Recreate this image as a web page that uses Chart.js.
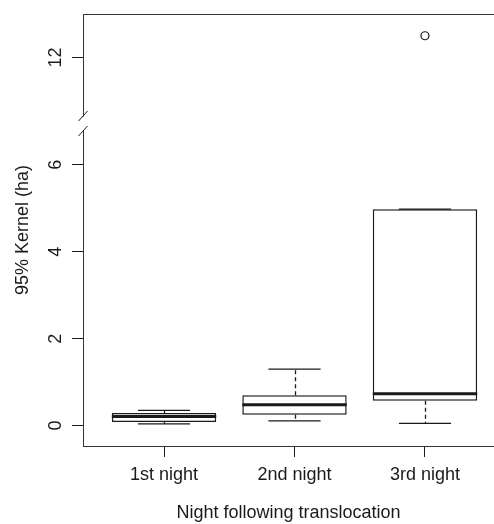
<!DOCTYPE html>
<html lang="en">
<head>
  <meta charset="UTF-8" />
  <title>95% Kernel by night following translocation</title>
  <script src="https://cdn.jsdelivr.net/npm/chart.js"></script>
  <style>
    body {
      margin: 0;
      background: #fff;
      overflow: hidden;
    }
    canvas {
      display: block;
    }
  </style>
</head>
<body>

  <canvas id="boxChart" width="494" height="524"></canvas>

  <script>
    // Box plot summaries (ha)
    const nights = ['1st night', '2nd night', '3rd night'];
    const lowerWhisker = [0.04, 0.11, 0.05];
    const q1 = [0.08, 0.25, 0.57];
    const median = [0.21, 0.48, 0.73];
    const q3 = [0.29, 0.70, 4.98];
    const upperWhisker = [0.35, 1.30, 4.98];
    const outlierNight = [3];
    const outlierValue = [12.5];

    // y axis: ticks and the cut-out part of the axis
    const yTicks = [0, 2, 4, 6, 12];
    const yGap = [6.95, 10.48];

    const ink = '#1a1a1a';
    const font = { family: "'Liberation Sans', Arial, sans-serif", size: 18 };

    // linear scale with a section of the axis removed (axis break)
    class BrokenScale extends Chart.LinearScale {
      squash(v) {
        const [a, b] = this.options.gap;
        if (v <= a) return v;
        if (v >= b) return v - (b - a);
        return a;
      }
      configure() {
        super.configure();
        this._valueRange = this.squash(this.max) - this._startValue;
      }
      getPixelForValue(v) {
        return super.getPixelForValue(this.squash(v));
      }
    }
    BrokenScale.id = 'broken';
    BrokenScale.defaults = Chart.LinearScale.defaults;
    Chart.register(BrokenScale);

    const noPad = s => {
      s.paddingTop = s.paddingBottom = s.paddingLeft = s.paddingRight = 0;
    };

    // whiskers, medians, top frame line and the axis break
    const boxExtras = {
      id: 'boxExtras',
      afterDatasetsDraw(chart) {
        const { ctx, scales: { x, y } } = chart;
        const seg = (x1, y1, x2, y2) => {
          ctx.beginPath();
          ctx.moveTo(x1, y1);
          ctx.lineTo(x2, y2);
          ctx.stroke();
        };
        ctx.save();
        ctx.strokeStyle = ink;
        nights.forEach((_, i) => {
          const cx = Math.round(x.getPixelForValue(i + 1)) + 0.5;
          ctx.lineWidth = 1.3;
          ctx.setLineDash([4, 3]);
          seg(cx, y.getPixelForValue(q3[i]), cx, y.getPixelForValue(upperWhisker[i]));
          seg(cx, y.getPixelForValue(q1[i]), cx, y.getPixelForValue(lowerWhisker[i]));
          ctx.setLineDash([]);
          const sl = x.getPixelForValue(i + 0.8), sr = x.getPixelForValue(i + 1.2);
          seg(sl, y.getPixelForValue(upperWhisker[i]), sr, y.getPixelForValue(upperWhisker[i]));
          seg(sl, y.getPixelForValue(lowerWhisker[i]), sr, y.getPixelForValue(lowerWhisker[i]));
          ctx.lineWidth = 3;
          const ml = x.getPixelForValue(i + 0.6), mr = x.getPixelForValue(i + 1.4);
          seg(ml, y.getPixelForValue(median[i]), mr, y.getPixelForValue(median[i]));
        });
        ctx.restore();
      },
      afterDraw(chart) {
        const { ctx, chartArea, scales: { y } } = chart;
        ctx.save();
        ctx.strokeStyle = '#333';
        ctx.lineWidth = 1;
        ctx.beginPath();
        ctx.moveTo(chartArea.left, chartArea.top + 0.5);
        ctx.lineTo(chartArea.right, chartArea.top + 0.5);
        ctx.stroke();

        const ax = chartArea.left;
        const yb = y.getPixelForValue(yGap[0]);
        ctx.fillStyle = '#fff';
        ctx.fillRect(ax - 3, yb - 7, 6, 14);
        ctx.strokeStyle = ink;
        [-7.5, 7.5].forEach(d => {
          ctx.beginPath();
          ctx.moveTo(ax - 4.5, yb + d + 5);
          ctx.lineTo(ax + 4.5, yb + d - 5);
          ctx.stroke();
        });
        ctx.restore();
      }
    };

    new Chart(document.getElementById('boxChart'), {
      type: 'bar',
      data: {
        datasets: [{
          type: 'bar',
          data: nights.map((_, i) => ({ x: i + 1, y: [q1[i], q3[i]] })),
          backgroundColor: '#fff',
          borderColor: ink,
          borderWidth: 1.5,
          borderSkipped: false,
          barPercentage: 1,
          categoryPercentage: 0.8
        }, {
          type: 'scatter',
          data: outlierNight.map((n, i) => ({ x: n, y: outlierValue[i] })),
          pointStyle: 'circle',
          pointRadius: 4,
          borderColor: ink,
          borderWidth: 1.2,
          backgroundColor: 'rgba(0,0,0,0)'
        }]
      },
      options: {
        responsive: false,
        animation: false,
        layout: { autoPadding: false, padding: { top: 14, right: 0, bottom: 0, left: 0 } },
        plugins: {
          legend: { display: false },
          tooltip: { enabled: false }
        },
        scales: {
          x: {
            type: 'linear',
            min: 0.379,
            max: 3.529,
            offset: false,
            afterBuildTicks: s => { s.ticks = nights.map((_, i) => ({ value: i + 1 })); },
            afterFit: s => { s.height = 78; noPad(s); },
            ticks: {
              autoSkip: false,
              padding: 7,
              color: ink,
              font: font,
              callback: v => nights[v - 1]
            },
            grid: { offset: false, drawOnChartArea: false, drawTicks: true, tickLength: 11, tickColor: ink },
            border: { display: true, color: '#333', width: 1 },
            title: {
              display: true,
              text: 'Night following translocation',
              color: ink,
              font: font,
              padding: { top: 0, bottom: 0 }
            }
          },
          y: {
            type: 'broken',
            gap: yGap,
            min: -0.47,
            max: 13,
            bounds: 'data',
            afterBuildTicks: s => { s.ticks = yTicks.map(v => ({ value: v })); },
            afterFit: s => { s.width = 83; noPad(s); },
            ticks: {
              autoSkip: false,
              minRotation: 90,
              maxRotation: 90,
              crossAlign: 'center',
              padding: 6,
              color: ink,
              font: font,
              callback: v => String(v)
            },
            grid: { drawOnChartArea: false, drawTicks: true, tickLength: 11, tickColor: ink },
            border: { display: true, color: '#333', width: 1 },
            title: {
              display: true,
              text: '95% Kernel (ha)',
              color: ink,
              font: font,
              padding: { top: 12, bottom: 0 }
            }
          }
        }
      },
      plugins: [boxExtras]
    });
  </script>
</body>
</html>
